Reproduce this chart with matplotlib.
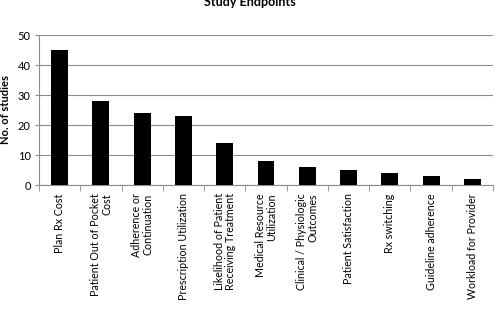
import matplotlib.pyplot as plt
import numpy as np

categories = ["Plan Rx Cost", "Patient Out of Pocket\nCost", "Adherence or\nContinuation",
              "Prescription Utilization", "Likelihood of Patient\nReceiving Treatment",
              "Medical Resource\nUtilization", "Clinical / Physiologic\nOutcomes",
              "Patient Satisfaction", "Rx switching", "Guideline adherence",
              "Workload for Provider"]
studies = [45, 28, 24, 23, 14, 8, 6, 5, 4, 3, 2]
yticks = [0, 10, 20, 30, 40, 50]

plt.rcParams['font.family'] = ['Lato', 'DejaVu Sans']

fig = plt.figure(figsize=(5.03, 3.12), dpi=100)
ax = fig.add_axes([39 / 503, 1 - 185 / 312, 454 / 503, 150 / 312])

x = np.arange(len(categories))
ax.bar(x, studies, width=0.41, color="black", zorder=3)

ax.set_xlim(-0.5, len(categories) - 0.5)
ax.set_ylim(0, 50)
ax.set_yticks(yticks)
ax.tick_params(axis='y', labelsize=8, length=3, color="#8c8c8c", pad=3)
ax.yaxis.grid(True, color="#8c8c8c", linewidth=0.8, zorder=0)

ax.set_xticks(x)
ax.set_xticklabels(categories, rotation=90, fontsize=7.7, va='top', ha='center',
                   multialignment='right', linespacing=1.05)
ax.tick_params(axis='x', which='major', length=0, pad=6)
ax.set_xticks(np.arange(-0.5, len(categories)), minor=True)
ax.tick_params(axis='x', which='minor', length=4, color="#8c8c8c")

for s in ['top', 'right']:
    ax.spines[s].set_visible(False)
for s in ['left', 'bottom']:
    ax.spines[s].set_color("#8c8c8c")
    ax.spines[s].set_linewidth(0.8)

ax.set_ylabel("No. of studies", fontsize=8, fontweight='bold', labelpad=5)
fig.text(250 / 503, 1 - 6 / 312, "Study Endpoints", fontsize=9, fontweight='bold',
         ha='center', va='baseline')

fig.savefig("out.png", dpi=100)
